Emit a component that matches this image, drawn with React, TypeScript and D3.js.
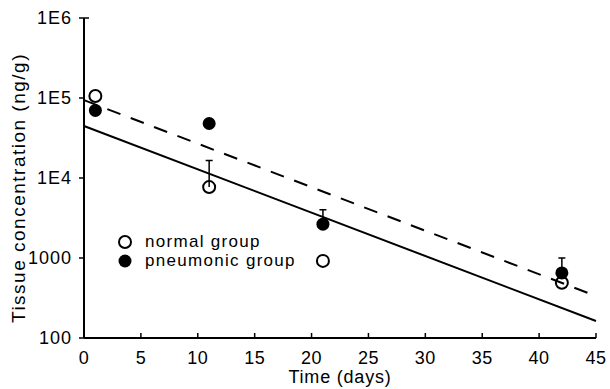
import React, { useEffect, useRef } from 'react';
import * as d3 from 'd3';

const days = [1, 11, 21, 42];
const normalGroup = [106000, 7700, 920, 490];
const pneumonicGroup = [70000, 48000, 2650, 650];
// upper error bars
const errorBars = [
  { day: 11, value: 7700, upper: 16500 },
  { day: 21, value: 2650, upper: 4000 },
  { day: 42, value: 650, upper: 1000 },
];
// regression lines, end points at day 0 and 45
const normalFit = [
  { day: 0, value: 44700 },
  { day: 45, value: 163 },
];
const pneumonicFit = [
  { day: 0, value: 94000 },
  { day: 45, value: 335 },
];
const xTicks = [0, 5, 10, 15, 20, 25, 30, 35, 40, 45];
const yTicks = [100, 1000, 1e4, 1e5, 1e6];
const yTickLabels = ['100', '1000', '1E4', '1E5', '1E6'];
const legendItems = ['normal group', 'pneumonic group'];

const W = 610;
const H = 389;
const margin = { left: 84, right: 14, top: 18, bottom: 51 };
const FONT = '"Liberation Sans", Arial, sans-serif';

function Chart() {
  const ref = useRef<SVGSVGElement>(null);

  useEffect(() => {
    const svg = d3.select(ref.current);
    svg.selectAll('*').remove();

    const x = d3.scaleLinear().domain([0, 45]).range([margin.left, W - margin.right]);
    const y = d3.scaleLog().domain([100, 1e6]).range([H - margin.bottom, margin.top]);

    const g = svg.append('g').attr('fill', '#000');

    // axes
    g.append('line')
      .attr('x1', x(0)).attr('x2', x(45))
      .attr('y1', y(100)).attr('y2', y(100))
      .attr('stroke', '#000').attr('stroke-width', 2);
    g.append('line')
      .attr('x1', x(0)).attr('x2', x(0))
      .attr('y1', y(100)).attr('y2', y(1e6))
      .attr('stroke', '#000').attr('stroke-width', 2);

    // x ticks point up into the plot
    g.selectAll('.xt')
      .data(xTicks)
      .enter()
      .append('line')
      .attr('x1', d => x(d)).attr('x2', d => x(d))
      .attr('y1', y(100)).attr('y2', y(100) - 5)
      .attr('stroke', '#000').attr('stroke-width', 1.5);
    g.selectAll('.xl')
      .data(xTicks)
      .enter()
      .append('text')
      .attr('x', d => x(d))
      .attr('y', y(100) + 26)
      .attr('text-anchor', 'middle')
      .style('font', `18px ${FONT}`)
      .style('letter-spacing', '0.5px')
      .text(d => d);

    // y ticks point left
    g.selectAll('.yt')
      .data(yTicks)
      .enter()
      .append('line')
      .attr('x1', x(0) - 5).attr('x2', x(0))
      .attr('y1', d => y(d)).attr('y2', d => y(d))
      .attr('stroke', '#000').attr('stroke-width', 1.5);
    g.append('line')
      .attr('x1', x(0)).attr('x2', x(0) + 5)
      .attr('y1', y(1e6)).attr('y2', y(1e6))
      .attr('stroke', '#000').attr('stroke-width', 1.5);
    g.selectAll('.yl')
      .data(yTicks)
      .enter()
      .append('text')
      .attr('x', x(0) - 12)
      .attr('y', d => y(d) + 6)
      .attr('text-anchor', 'end')
      .style('font', `18px ${FONT}`)
      .style('letter-spacing', '1px')
      .text((d, i) => yTickLabels[i]);

    // axis titles
    g.append('text')
      .attr('x', (x(0) + x(45)) / 2)
      .attr('y', H - 6)
      .attr('text-anchor', 'middle')
      .style('font', `18px ${FONT}`)
      .style('letter-spacing', '0.8px')
      .text('Time (days)');
    g.append('text')
      .attr('transform', `translate(25,${(y(100) + y(1e6)) / 2 + 10}) rotate(-90)`)
      .attr('text-anchor', 'middle')
      .attr('fill', '#000')
      .style('font', `19px ${FONT}`)
      .style('letter-spacing', '1.5px')
      .text('Tissue concentration (ng/g)');

    // regression lines
    const line = d3
      .line<{ day: number; value: number }>()
      .x(d => x(d.day))
      .y(d => y(d.value));
    g.append('path')
      .attr('d', line(normalFit))
      .attr('fill', 'none')
      .attr('stroke', '#000')
      .attr('stroke-width', 2);
    g.append('path')
      .attr('d', line(pneumonicFit))
      .attr('fill', 'none')
      .attr('stroke', '#000')
      .attr('stroke-width', 2)
      .attr('stroke-dasharray', '14,11');

    // error bars
    g.selectAll('.eb')
      .data(errorBars)
      .enter()
      .append('path')
      .attr('d', d => `M${x(d.day)},${y(d.value)}V${y(d.upper)}M${x(d.day) - 3.5},${y(d.upper)}H${x(d.day) + 3.5}`)
      .attr('fill', 'none')
      .attr('stroke', '#000')
      .attr('stroke-width', 1.5);

    // points
    g.selectAll('.pn')
      .data(days)
      .enter()
      .append('circle')
      .attr('cx', d => x(d))
      .attr('cy', (d, i) => y(pneumonicGroup[i]))
      .attr('r', 6.5)
      .attr('fill', '#000');
    g.selectAll('.nm')
      .data(days)
      .enter()
      .append('circle')
      .attr('cx', d => x(d))
      .attr('cy', (d, i) => y(normalGroup[i]))
      .attr('r', 6)
      .attr('fill', 'none')
      .attr('stroke', '#000')
      .attr('stroke-width', 2);

    // legend
    const lg = g.append('g').attr('transform', 'translate(125,242)');
    legendItems.forEach((label, i) => {
      const row = lg.append('g').attr('transform', `translate(0,${i * 19})`);
      if (i === 0) {
        row.append('circle').attr('r', 6).attr('fill', 'none').attr('stroke', '#000').attr('stroke-width', 2);
      } else {
        row.append('circle').attr('r', 6.5).attr('fill', '#000');
      }
      row.append('text')
        .attr('x', 20)
        .attr('y', 5)
        .style('font', `17px ${FONT}`)
        .style('letter-spacing', '1.3px')
        .text(label);
    });
  }, []);

  return <svg ref={ref} width={W} height={H} style={{ position: 'absolute', left: 0, top: 0, background: '#fff' }} />;
}

export default function App() {
  return <Chart />;
}
